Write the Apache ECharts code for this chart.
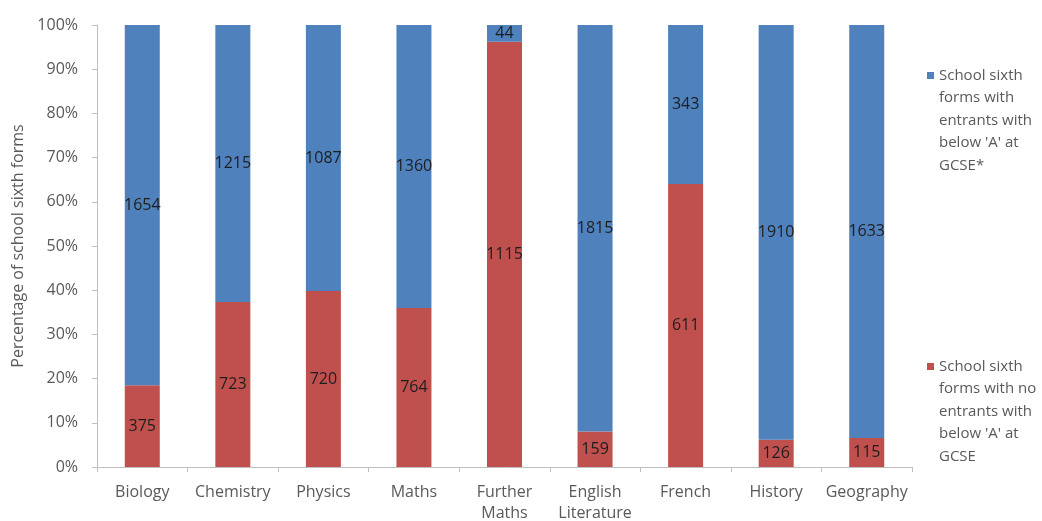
<!DOCTYPE html>
<html>
<head>
<meta charset="utf-8">
<title>School sixth forms by subject</title>
<script src="https://cdn.jsdelivr.net/npm/echarts@6/dist/echarts.min.js"></script>
<style>
  html, body { margin: 0; padding: 0; background: #ffffff; }
  #chart { width: 1042px; height: 521px; }
</style>
</head>
<body>
<div id="chart"></div>
<script>
// Subjects along the x axis
const subjects = ['Biology', 'Chemistry', 'Physics', 'Maths', 'Further\nMaths',
  'English\nLiterature', 'French', 'History', 'Geography'];

// Number of school sixth forms with no entrants below 'A' at GCSE
const noBelowA = [375, 723, 720, 764, 1115, 159, 611, 126, 115];
// Number of school sixth forms with entrants below 'A' at GCSE
const withBelowA = [1654, 1215, 1087, 1360, 44, 1815, 343, 1910, 1633];

const yTicks = [0, 10, 20, 30, 40, 50, 60, 70, 80, 90, 100];

const nameNo = "School sixth forms with no entrants with below 'A' at GCSE";
const nameWith = "School sixth forms with entrants with below 'A' at GCSE*";
const legendLines = {};
legendLines[nameWith] = ['School sixth', 'forms with', 'entrants with', "below 'A' at", 'GCSE*'];
legendLines[nameNo] = ['School sixth', 'forms with no', 'entrants with', "below 'A' at", 'GCSE'];

const FONT = 'Open Sans';
const FS = 16;
const BLUE = '#4f81bd';
const RED = '#c0504d';

// Share of each subject's total, so every column stacks to 100%
const totals = subjects.map((_, i) => noBelowA[i] + withBelowA[i]);
const share = (arr) => arr.map((v, i) => ({ value: v / totals[i] * 100, count: v }));

const labelStyle = {
  show: true,
  position: 'inside',
  formatter: (p) => String(p.data.count),
  color: '#1e1e1e',
  fontFamily: FONT,
  fontSize: FS
};

// Multi-line legend entry with the colour square on the first line only
function legendText(name) {
  return legendLines[name].map((l, i) => (i === 0 ? '{m|}' : '{s|}') + '{t|' + l + '}').join('\n');
}
function legendRich(color) {
  return {
    m: { width: 7, height: 7, backgroundColor: color },
    s: { width: 7, height: 7 },
    t: { fontFamily: FONT, fontSize: 15, color: '#595959', padding: [0, 0, 0, 5], lineHeight: 22.5 }
  };
}

const chart = echarts.init(document.getElementById('chart'), null, { renderer: 'canvas' });
chart.setOption({
  animation: false,
  backgroundColor: '#ffffff',
  grid: { left: 97, right: 130, top: 25, bottom: 54, containLabel: false, outerBoundsMode: 'none' },
  legend: [
    {
      data: [nameWith],
      left: 917, top: 63,
      padding: [5, 0, 5, 5],
      orient: 'vertical',
      icon: 'none',
      itemWidth: 0, itemHeight: 0,
      selectedMode: false,
      formatter: legendText,
      textStyle: { rich: legendRich(BLUE) }
    },
    {
      data: [nameNo],
      left: 917, top: 354,
      padding: [5, 0, 5, 5],
      orient: 'vertical',
      icon: 'none',
      itemWidth: 0, itemHeight: 0,
      selectedMode: false,
      formatter: legendText,
      textStyle: { rich: legendRich(RED) }
    }
  ],
  xAxis: {
    type: 'category',
    data: subjects,
    axisLine: { show: true, lineStyle: { color: '#bfbfbf', width: 1 } },
    axisTick: { show: true, length: 5, lineStyle: { color: '#bfbfbf' } },
    axisLabel: {
      interval: 0, margin: 15,
      fontFamily: FONT, fontSize: FS, color: '#595959', lineHeight: 21
    }
  },
  yAxis: {
    type: 'value',
    min: 0, max: 100, interval: 10,
    name: 'Percentage of school sixth forms',
    nameLocation: 'middle',
    nameGap: 69,
    nameTextStyle: { fontFamily: FONT, fontSize: FS, color: '#595959' },
    axisLine: { show: true, lineStyle: { color: '#bfbfbf', width: 1 } },
    axisTick: { show: true, length: 5, lineStyle: { color: '#bfbfbf' } },
    splitLine: { show: false },
    axisLabel: {
      margin: 19,
      fontFamily: FONT, fontSize: FS, color: '#595959',
      formatter: (v) => (yTicks.indexOf(v) >= 0 ? v + '%' : '')
    }
  },
  series: [
    {
      name: nameNo,
      type: 'bar',
      stack: 'total',
      barWidth: 35,
      itemStyle: { color: RED },
      label: labelStyle,
      data: share(noBelowA)
    },
    {
      name: nameWith,
      type: 'bar',
      stack: 'total',
      barWidth: 35,
      itemStyle: { color: BLUE },
      label: labelStyle,
      data: share(withBelowA)
    }
  ]
});
</script>
</body>
</html>
